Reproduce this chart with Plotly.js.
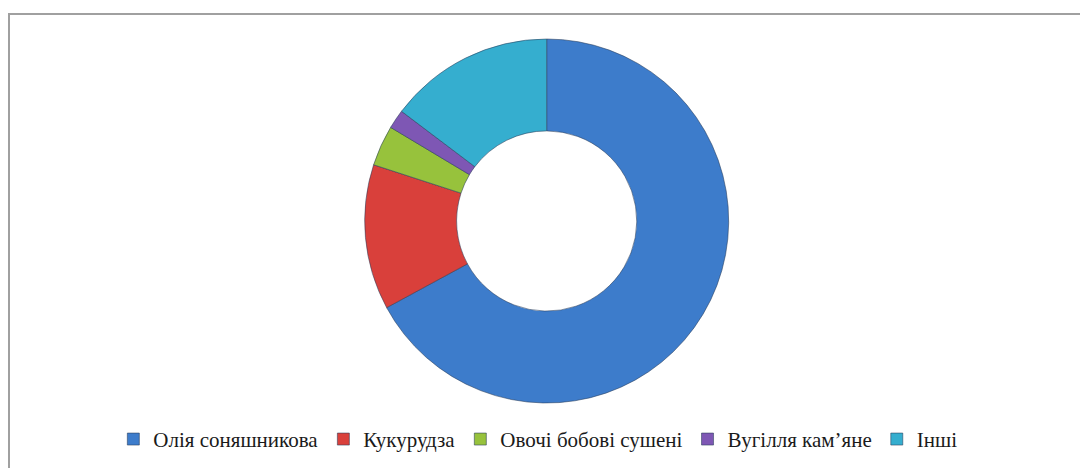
<!DOCTYPE html>
<html>
<head>
<meta charset="utf-8">
<script src="https://cdn.plot.ly/plotly-3.0.1.min.js"></script>
<style>
  html, body { margin: 0; padding: 0; background: #fff; }
  #wrap { position: relative; width: 1080px; height: 468px; overflow: hidden; }
  #frame { position: absolute; left: 8px; top: 13px; width: 1200px; height: 600px;
           border-left: 2px solid #a0a0a0; border-top: 2px solid #a0a0a0; box-sizing: border-box; pointer-events: none; }
  #chart { position: absolute; left: 0; top: 0; width: 1080px; height: 468px; }
</style>
</head>
<body>
<div id="wrap">
  <div id="chart"></div>
  <div id="frame"></div>
</div>
<script>
const categories = ["Олія соняшникова", "Кукурудза", "Овочі бобові сушені", "Вугілля кам’яне", "Інші"];
const shares = [67.1, 12.9, 3.6, 1.7, 14.7];
const colors = ["#3d7ccb", "#d9403b", "#97c23c", "#7e57b4", "#35aecf"];

const trace = {
  type: "pie",
  labels: categories,
  values: shares,
  sort: false,
  direction: "clockwise",
  rotation: 0,
  hole: 0.495,
  textinfo: "none",
  hoverinfo: "label+percent",
  marker: { colors: colors, line: { color: "rgba(40,60,90,0.55)", width: 1 } },
  domain: { x: [0.0124, 1], y: [0, 1] }
};

const layout = {
  width: 1080,
  height: 468,
  margin: { l: 0, r: 0, t: 39, b: 65 },
  paper_bgcolor: "#ffffff",
  plot_bgcolor: "#ffffff",
  showlegend: true,
  legend: {
    orientation: "h",
    x: 0.498, xanchor: "center",
    y: -0.1, yanchor: "middle",
    font: { family: "Liberation Serif", size: 21, color: "#1a1a1a" },
    itemwidth: 30,
    traceorder: "normal"
  },
  font: { family: "Liberation Serif" }
};

Plotly.newPlot("chart", [trace], layout, { displayModeBar: false, staticPlot: true });
</script>
</body>
</html>
